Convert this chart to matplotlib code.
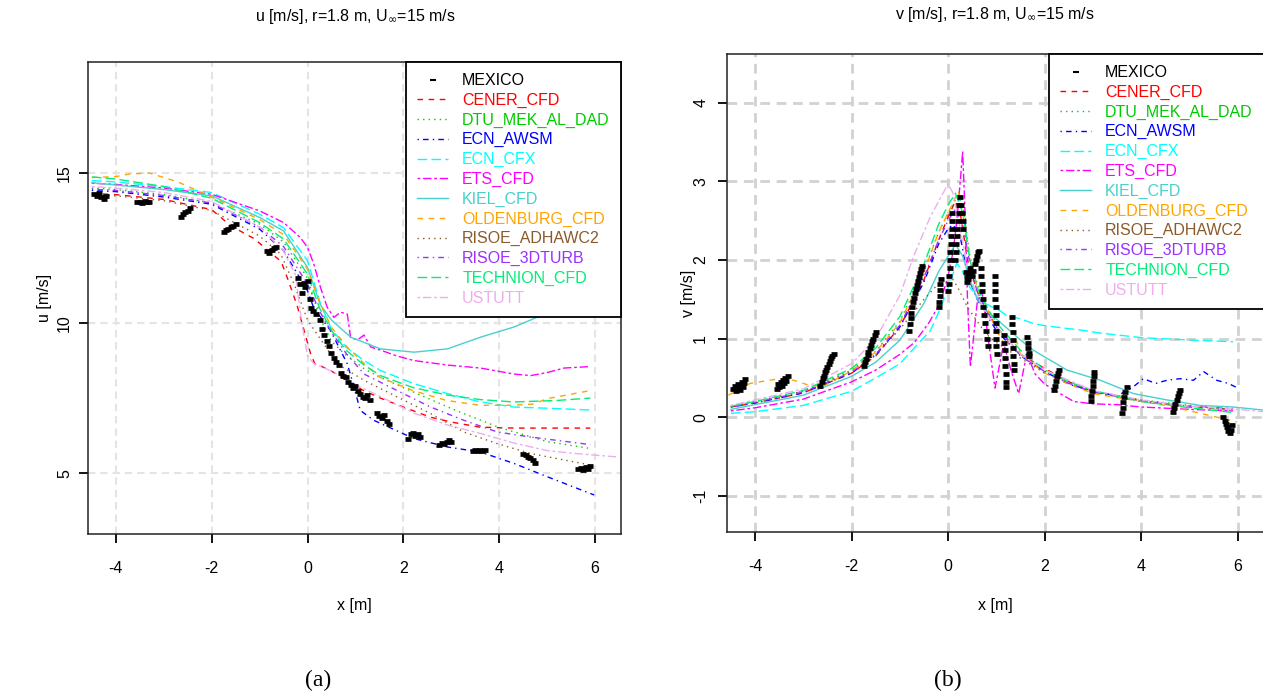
import matplotlib
matplotlib.use("Agg")
import matplotlib.pyplot as plt
from matplotlib.lines import Line2D

plt.rcParams["font.family"] = ["Liberation Sans", "DejaVu Sans"]
plt.rcParams["font.size"] = 11.5

# ---------------- legend / styles ----------------
models = ["CENER_CFD", "DTU_MEK_AL_DAD", "ECN_AWSM", "ECN_CFX", "ETS_CFD", "KIEL_CFD",
          "OLDENBURG_CFD", "RISOE_ADHAWC2", "RISOE_3DTURB", "TECHNION_CFD", "USTUTT"]
colors = ["#FF0000", "#00CD00", "#0000FF", "#00FFFF", "#FF00FF", "#48D1CC",
          "#FFA500", "#8B5A2B", "#9B30FF", "#00EE76", "#EEAEEE"]
styles = [(0, (4, 4)), (0, (1, 3)), (0, (1, 3, 4, 3)), (0, (7, 3)), (0, (2, 2, 6, 2)), "-",
          (0, (4, 4)), (0, (1, 3)), (0, (1, 3, 4, 3)), (0, (7, 3)), (0, (2, 2, 6, 2))]

# ---------------- (a) u [m/s] ----------------
u_mex_x = [-4.45, -4.4, -4.35, -4.3, -4.25, -4.2,
           -3.55, -3.5, -3.45, -3.4, -3.35, -3.3,
           -2.65, -2.6, -2.55, -2.5, -2.45,
           -1.75, -1.7, -1.65, -1.6, -1.55, -1.5,
           -0.85, -0.8, -0.75, -0.7, -0.65,
           -0.2, -0.15, -0.12, -0.08, -0.05, 0.0, 0.05, 0.08, 0.12, 0.18, 0.25, 0.3, 0.35,
           0.4, 0.45, 0.5, 0.55, 0.6, 0.65, 0.7, 0.75, 0.8, 0.85, 0.9, 0.95, 1.0, 1.05,
           1.1, 1.15, 1.2, 1.25, 1.3, 1.45, 1.5, 1.55, 1.6, 1.65, 1.7,
           2.1, 2.15, 2.2, 2.25, 2.3, 2.35,
           2.75, 2.8, 2.85, 2.9, 2.95, 3.0,
           3.45, 3.5, 3.55, 3.6, 3.65, 3.7,
           4.5, 4.55, 4.6, 4.65, 4.7, 4.75,
           5.65, 5.7, 5.75, 5.8, 5.85, 5.9]
u_mex = [14.3, 14.25, 14.32, 14.2, 14.15, 14.22,
         14.02, 14.05, 14.0, 14.08, 14.03, 14.05,
         13.55, 13.65, 13.7, 13.75, 13.85,
         13.05, 13.1, 13.15, 13.2, 13.25, 13.3,
         12.4, 12.35, 12.45, 12.5, 12.55,
         11.5, 11.3, 11.0, 11.35, 11.2, 11.4, 10.8, 10.5, 10.4, 10.3, 10.1, 9.8, 9.6,
         9.4, 9.25, 9.0, 8.85, 8.7, 8.6, 8.35, 8.25, 8.2, 8.05, 7.95, 7.85, 7.9, 7.75,
         7.65, 7.55, 7.5, 7.6, 7.45, 7.0, 6.9, 6.85, 6.95, 6.75, 6.65,
         6.15, 6.3, 6.35, 6.25, 6.3, 6.2,
         5.95, 6.0, 5.98, 6.05, 6.1, 6.05,
         5.75, 5.78, 5.75, 5.77, 5.75, 5.76,
         5.65, 5.6, 5.55, 5.5, 5.45, 5.35,
         5.12, 5.18, 5.1, 5.2, 5.15, 5.22]

u_cener_x = [-4.5, -4, -3, -2, -1.6, -1.1, -0.85, -0.55, -0.42, -0.22, 0.06, 0.15, 0.3, 0.5,
             0.8, 1.17, 1.52, 2, 2.57, 3, 3.6, 4.3, 5, 5.9]
u_cener = [14.32, 14.28, 14.12, 13.78, 13.24, 12.8, 12.45, 12.05, 11.5, 10.6, 9.0, 8.65, 8.55,
           8.4, 8.1, 7.75, 7.5, 7.2, 6.86, 6.7, 6.53, 6.5, 6.5, 6.5]
u_dtu_x = [-4.5, -4, -3, -2, -1, -0.5, 0, 0.25, 0.5, 0.75, 1, 1.18, 1.5, 2, 3, 4, 5, 5.9]
u_dtu = [14.5, 14.45, 14.28, 14.0, 13.3, 12.7, 11.5, 10.2, 9.4, 9.0, 8.7, 8.48, 8.2, 7.85,
         7.15, 6.52, 6.05, 5.82]
u_awsm_x = [-4.5, -4, -3, -2, -1, -0.5, 0, 0.13, 0.48, 0.83, 0.97, 1.1, 1.38, 2.22, 2.92,
            3.61, 4.31, 5.0, 5.98]
u_awsm = [14.42, 14.38, 14.2, 13.96, 13.13, 12.41, 11.08, 10.5, 9.75, 8.64, 7.87, 7.09, 6.76,
          6.15, 5.87, 5.7, 5.32, 4.88, 4.27]
u_cfx_x = [-4.5, -4, -3, -2, -1, -0.5, 0, 0.27, 0.5, 0.8, 1.18, 1.52, 2.22, 2.92, 3.61, 4.31,
           5.21, 5.91]
u_cfx = [14.75, 14.7, 14.55, 14.35, 13.63, 13.18, 12.08, 10.64, 9.8, 9.2, 8.75, 8.42, 7.98,
         7.65, 7.37, 7.2, 7.15, 7.1]
u_ets_x = [-4.5, -4, -3, -2, -1, -0.5, -0.15, 0, 0.13, 0.27, 0.41, 0.55, 0.69, 0.83, 0.9, 1.05,
           1.18, 1.32, 1.52, 1.87, 2.22, 2.92, 3.61, 4.31, 4.66, 5.0, 5.35, 5.9]
u_ets = [14.66, 14.62, 14.5, 14.29, 13.74, 13.35, 12.85, 12.52, 11.97, 11.19, 10.53, 10.19,
         10.36, 10.3, 9.5, 9.45, 9.6, 9.2, 9.1, 8.9, 8.75, 8.6, 8.5, 8.3, 8.25, 8.35, 8.5, 8.55]
u_kiel_x = [-4.5, -4, -3, -2, -1, -0.5, 0, 0.27, 0.5, 0.9, 1.52, 2.22, 2.92, 3.61, 4.31, 4.8,
            5.4, 5.9]
u_kiel = [14.68, 14.6, 14.45, 14.24, 13.52, 13.07, 11.85, 10.6, 10.1, 9.53, 9.14, 9.03, 9.14,
          9.53, 9.87, 10.2, 10.6, 10.95]
u_old_x = [-4.5, -4, -3.7, -3.3, -3.0, -2.7, -2, -1, -0.5, 0, 0.25, 0.5, 0.83, 1.18, 1.5, 2.2,
           2.9, 3.6, 4.3, 4.7, 5.0, 5.4, 5.9]
u_old = [14.85, 14.88, 14.97, 15.0, 14.85, 14.7, 14.2, 13.45, 12.95, 11.8, 10.7, 9.85, 9.2,
         8.65, 8.2, 7.75, 7.42, 7.26, 7.26, 7.3, 7.48, 7.6, 7.75]
u_adh_x = [-4.5, -4, -3, -2, -1, -0.56, -0.28, 0, 0.34, 0.62, 1.18, 1.87, 2.57, 3.26, 3.96,
           4.66, 5.9]
u_adh = [14.28, 14.24, 14.08, 13.75, 12.9, 12.3, 11.3, 10.1, 9.3, 8.64, 8.09, 7.54, 6.98, 6.37,
         5.98, 5.65, 5.27]
u_3dt_x = [-4.5, -4, -3, -2, -1, -0.5, 0, 0.25, 0.5, 0.8, 1.18, 1.87, 2.57, 3.26, 3.96, 4.66,
           5.9]
u_3dt = [14.46, 14.42, 14.25, 14.0, 13.2, 12.55, 11.3, 10.4, 9.7, 9.0, 8.3, 7.75, 7.2, 6.76,
         6.37, 6.2, 5.95]
u_tech_x = [-4.5, -4, -3, -2, -1, -0.5, 0, 0.25, 0.5, 0.8, 1.18, 1.52, 2.2, 2.92, 3.6, 4.31,
            5.2, 5.9]
u_tech = [14.87, 14.8, 14.55, 14.16, 13.35, 12.8, 11.63, 10.5, 9.75, 9.1, 8.6, 8.25, 7.85,
          7.6, 7.45, 7.37, 7.42, 7.5]
u_ust_x = [-4.5, -4, -3, -2, -1, -0.5, -0.25, -0.12, 0.0, 0.13, 0.5, 1.0, 1.52, 2.22, 2.92,
           3.61, 4.31, 5.0, 5.6, 6.46]
u_ust = [14.55, 14.5, 14.35, 14.05, 13.2, 12.4, 11.6, 10.0, 8.9, 8.65, 8.4, 7.95, 7.55, 7.0,
         6.6, 6.32, 6.0, 5.75, 5.65, 5.54]

# ---------------- (b) v [m/s] ----------------
v_mex_x = [-4.45, -4.42, -4.4, -4.37, -4.35, -4.32, -4.3, -4.27, -4.25, -4.22, -4.2,
           -3.55, -3.52, -3.5, -3.47, -3.45, -3.42, -3.4, -3.37, -3.35, -3.32,
           -2.65, -2.62, -2.6, -2.57, -2.55, -2.52, -2.5, -2.47, -2.45, -2.42, -2.4, -2.37,
           -1.75, -1.72, -1.7, -1.67, -1.65, -1.62, -1.6, -1.57, -1.55, -1.52, -1.5,
           -0.82, -0.8, -0.78, -0.76, -0.74, -0.72, -0.7, -0.68, -0.66, -0.64, -0.62, -0.6,
           -0.58, -0.56, -0.54,
           -0.19, -0.18, -0.17, -0.16, -0.16, -0.15,
           0.0, 0.01, 0.02, 0.03, 0.03, 0.04, 0.05, 0.06, 0.07, 0.07, 0.08,
           0.15, 0.16, 0.17, 0.18, 0.19, 0.2, 0.22, 0.23, 0.25, 0.27, 0.28, 0.3, 0.3,
           0.36, 0.38, 0.4, 0.42, 0.44, 0.46, 0.48, 0.5, 0.52, 0.55, 0.58, 0.6, 0.62, 0.64,
           0.68, 0.69, 0.7, 0.71, 0.72, 0.73, 0.75, 0.76, 0.78, 0.8, 0.82,
           0.96, 0.96, 0.97, 0.97, 0.98, 0.98, 0.99, 0.99, 1.0, 1.0, 1.01,
           1.16, 1.16, 1.17, 1.17, 1.18, 1.19, 1.19, 1.2,
           1.33, 1.33, 1.34, 1.34, 1.35, 1.35, 1.36, 1.36,
           1.64, 1.65, 1.66, 1.67, 1.68,
           2.2, 2.22, 2.24, 2.26, 2.28, 2.3,
           2.95, 2.96, 2.98, 2.99, 3.0, 3.02, 3.03,
           3.6, 3.62, 3.63, 3.65, 3.67, 3.7,
           4.65, 4.68, 4.7, 4.73, 4.75, 4.78, 4.8,
           5.7, 5.73, 5.75, 5.78, 5.8, 5.83, 5.86, 5.88]
v_mex = [0.36, 0.4, 0.33, 0.38, 0.42, 0.35, 0.4, 0.45, 0.38, 0.43, 0.48,
         0.36, 0.42, 0.38, 0.45, 0.4, 0.47, 0.43, 0.5, 0.46, 0.52,
         0.4, 0.45, 0.5, 0.53, 0.57, 0.6, 0.64, 0.68, 0.72, 0.75, 0.78, 0.8,
         0.65, 0.7, 0.74, 0.79, 0.83, 0.88, 0.92, 0.97, 1.0, 1.04, 1.08,
         1.1, 1.18, 1.26, 1.33, 1.4, 1.46, 1.52, 1.58, 1.63, 1.68, 1.73, 1.78,
         1.83, 1.88, 1.92,
         1.4, 1.47, 1.54, 1.62, 1.7, 1.76,
         1.6, 1.7, 1.8, 1.9, 2.0, 2.1, 2.2, 2.3, 2.4, 2.5, 2.6,
         2.0, 2.1, 2.2, 2.3, 2.4, 2.5, 2.6, 2.7, 2.8, 2.7, 2.6, 2.5, 2.4,
         1.85, 1.78, 1.72, 1.76, 1.82, 1.9, 1.85, 1.8, 1.86, 1.95, 2.0, 2.05, 2.1, 2.12,
         1.9, 1.8, 1.7, 1.6, 1.5, 1.4, 1.3, 1.2, 1.1, 1.0, 0.9,
         1.8, 1.7, 1.6, 1.5, 1.4, 1.3, 1.2, 1.1, 1.0, 0.9, 0.8,
         1.05, 0.95, 0.85, 0.75, 0.65, 0.55, 0.45, 0.38,
         1.28, 1.18, 1.08, 0.98, 0.88, 0.78, 0.68, 0.6,
         1.02, 0.95, 0.88, 0.82, 0.78,
         0.34, 0.4, 0.46, 0.52, 0.56, 0.6,
         0.2, 0.27, 0.33, 0.4, 0.46, 0.52, 0.57,
         0.05, 0.12, 0.19, 0.26, 0.32, 0.38,
         0.06, 0.12, 0.17, 0.22, 0.27, 0.31, 0.35,
         0.0, -0.05, -0.09, -0.13, -0.17, -0.2, -0.16, -0.1]

v_cener_x = [-4.5, -4, -3, -2, -1.5, -1, -0.5, -0.2, 0, 0.15, 0.25, 0.4, 0.6, 0.8, 1.0, 1.5,
             2, 2.5, 3, 4, 5, 5.9]
v_cener = [0.13, 0.18, 0.31, 0.56, 0.78, 1.15, 1.75, 2.25, 2.55, 2.75, 2.6, 2.0, 1.6, 1.35,
           1.15, 0.8, 0.62, 0.45, 0.33, 0.21, 0.13, 0.1]
v_dtu_x = [-4.5, -4, -3, -2, -1.5, -1, -0.5, -0.2, 0, 0.2, 0.3, 0.45, 0.6, 0.8, 1.0, 1.5, 2,
           2.5, 3, 4, 5, 5.9]
v_dtu = [0.14, 0.2, 0.33, 0.6, 0.84, 1.22, 1.87, 2.35, 2.6, 2.82, 2.7, 2.05, 1.7, 1.4, 1.15,
         0.8, 0.6, 0.44, 0.33, 0.22, 0.15, 0.08]
v_awsm_x = [-4.5, -4, -3, -2, -1.5, -1, -0.5, -0.2, 0, 0.1, 0.25, 0.4, 0.6, 0.8, 1.0, 1.5, 2,
            2.5, 3, 3.5, 3.84, 4.04, 4.3, 4.53, 4.8, 5.08, 5.29, 5.56, 5.8, 6.0]
v_awsm = [0.13, 0.18, 0.31, 0.56, 0.79, 1.15, 1.72, 2.2, 2.4, 2.45, 2.3, 1.8, 1.5, 1.3, 1.1,
          0.78, 0.58, 0.42, 0.33, 0.27, 0.39, 0.49, 0.43, 0.47, 0.49, 0.47, 0.58, 0.47, 0.43,
          0.37]
v_cfx_x = [-4.5, -4, -3, -2, -1.5, -1, -0.6, -0.37, -0.15, 0, 0.18, 0.3, 0.45, 0.66, 0.85,
           1.0, 1.08, 1.2, 1.5, 1.77, 2.04, 2.73, 3.15, 4.04, 5.08, 5.9]
v_cfx = [0.05, 0.07, 0.15, 0.33, 0.5, 0.68, 0.95, 1.1, 1.4, 1.65, 1.96, 1.85, 1.65, 1.49, 1.42,
         1.38, 1.35, 1.3, 1.25, 1.19, 1.16, 1.11, 1.07, 1.01, 0.98, 0.96]
v_ets_x = [-4.5, -4, -3, -2, -1.5, -1, -0.7, -0.4, -0.17, 0, 0.1, 0.18, 0.25, 0.3, 0.35, 0.4,
           0.46, 0.6, 0.7, 0.85, 0.97, 1.15, 1.3, 1.46, 1.63, 1.8, 2.0, 2.32, 2.6, 3.0, 3.5,
           4.0, 5.0, 5.9]
v_ets = [0.08, 0.12, 0.23, 0.45, 0.6, 0.8, 0.95, 1.2, 1.45, 1.8, 2.1, 2.5, 3.0, 3.38, 2.6, 1.5,
         0.64, 1.45, 1.6, 0.9, 0.37, 0.94, 0.6, 0.3, 0.81, 0.55, 0.42, 0.3, 0.2, 0.17, 0.16,
         0.13, 0.1, 0.08]
v_kiel_x = [-4.5, -4, -3, -2, -1.5, -1, -0.5, -0.2, 0, 0.15, 0.3, 0.45, 0.6, 0.8, 1.0, 1.5,
            1.77, 2.46, 3.15, 3.84, 4.53, 5.22, 5.9, 6.54]
v_kiel = [0.1, 0.16, 0.28, 0.52, 0.7, 0.98, 1.45, 1.85, 2.05, 2.2, 2.05, 1.75, 1.5, 1.35, 1.25,
          0.98, 0.85, 0.6, 0.47, 0.3, 0.22, 0.15, 0.13, 0.09]
v_old_x = [-4.55, -4.1, -3.5, -3.2, -2.9, -2.6, -2, -1.5, -1, -0.5, -0.2, 0, 0.21, 0.3, 0.45,
           0.6, 0.8, 1.0, 1.2, 1.35, 1.5, 2, 2.5, 3, 4, 4.5, 5.22, 5.98]
v_old = [0.28, 0.43, 0.49, 0.47, 0.41, 0.39, 0.59, 0.83, 1.2, 1.85, 2.35, 2.6, 2.87, 2.6, 2.0,
         1.65, 1.4, 1.1, 0.9, 1.1, 0.8, 0.56, 0.42, 0.3, 0.2, 0.15, 0.05, -0.06]
v_adh_x = [-4.5, -4, -3, -2, -1.5, -1, -0.5, -0.2, 0, 0.1, 0.2, 0.4, 0.6, 0.8, 1.0, 1.5, 2, 3,
           4, 5, 5.9]
v_adh = [0.14, 0.2, 0.33, 0.58, 0.8, 1.12, 1.5, 1.7, 1.78, 1.75, 1.65, 1.4, 1.22, 1.05, 0.95,
         0.75, 0.56, 0.32, 0.2, 0.14, 0.1]
v_3dt_x = [-4.5, -4, -3, -2, -1.5, -1, -0.5, -0.2, 0, 0.15, 0.3, 0.45, 0.6, 0.8, 1.0, 1.5, 2,
           2.5, 3, 4, 5, 5.9]
v_3dt = [0.13, 0.19, 0.32, 0.57, 0.8, 1.17, 1.78, 2.25, 2.5, 2.65, 2.45, 1.95, 1.6, 1.35, 1.15,
         0.78, 0.58, 0.43, 0.32, 0.21, 0.14, 0.11]
v_tech_x = [-4.5, -4, -3, -2, -1.5, -1, -0.5, -0.2, 0, 0.15, 0.3, 0.45, 0.6, 0.8, 1.0, 1.5, 2,
            2.5, 3, 4, 5, 5.9]
v_tech = [0.14, 0.2, 0.34, 0.62, 0.88, 1.28, 1.95, 2.45, 2.7, 2.85, 2.6, 2.0, 1.65, 1.4, 1.2,
          0.85, 0.6, 0.45, 0.34, 0.2, 0.12, 0.06]
v_ust_x = [-4.5, -4, -3, -2, -1.5, -1, -0.72, -0.37, 0, 0.1, 0.25, 0.4, 0.6, 0.8, 1.0, 1.5, 2,
           3, 4, 5, 6, 6.54]
v_ust = [0.15, 0.22, 0.36, 0.68, 1.0, 1.55, 2.04, 2.55, 2.97, 2.85, 2.4, 1.9, 1.55, 1.3, 1.15,
         0.8, 0.6, 0.34, 0.22, 0.14, 0.1, 0.07]

u_series = [(u_cener_x, u_cener), (u_dtu_x, u_dtu), (u_awsm_x, u_awsm), (u_cfx_x, u_cfx),
            (u_ets_x, u_ets), (u_kiel_x, u_kiel), (u_old_x, u_old), (u_adh_x, u_adh),
            (u_3dt_x, u_3dt), (u_tech_x, u_tech), (u_ust_x, u_ust)]
v_series = [(v_cener_x, v_cener), (v_dtu_x, v_dtu), (v_awsm_x, v_awsm), (v_cfx_x, v_cfx),
            (v_ets_x, v_ets), (v_kiel_x, v_kiel), (v_old_x, v_old), (v_adh_x, v_adh),
            (v_3dt_x, v_3dt), (v_tech_x, v_tech), (v_ust_x, v_ust)]


def draw_panel(ax, mex_x, mex_y, series, yticks, ylim, grid_color, grid_lw, ypad):
    """
    One R-style panel: grid, model lines, measured points, legend.
    """
    ax.set_xlim(-4.58, 6.54)
    ax.set_ylim(*ylim)
    xt = [-4, -2, 0, 2, 4, 6]
    for x in xt:
        ax.axvline(x, color=grid_color, lw=grid_lw, ls=(0, (3.5, 2.4)), zorder=0)
    for y in yticks:
        ax.axhline(y, color=grid_color, lw=grid_lw, ls=(0, (3.5, 2.4)), zorder=0)

    for (xs, ys), c, ls in zip(series, colors, styles):
        ax.plot(xs, ys, color=c, ls=ls, lw=1.0, zorder=2)
    ax.plot(mex_x, mex_y, ls="none", marker="_", ms=5, mew=3.4, color="black", zorder=3)

    ax.set_xticks(xt)
    ax.set_xticklabels([str(x) for x in xt])
    ax.set_yticks(yticks)
    ax.set_yticklabels([str(y) for y in yticks], rotation=90, va="center")
    ax.tick_params(direction="out", length=6.5, width=1.3)
    ax.tick_params(axis="x", pad=13)
    ax.tick_params(axis="y", pad=ypad)
    for s in ax.spines.values():
        s.set_linewidth(1.1)
        s.set_color("#222222")

    handles = [Line2D([], [], ls="none", marker="_", ms=4, mew=1.5, color="black")]
    for c, ls in zip(colors, styles):
        handles.append(Line2D([], [], color=c, ls=ls, lw=1.0))
    leg = ax.legend(handles, ["MEXICO"] + models, loc="upper right", bbox_to_anchor=(1, 1),
                    borderaxespad=0, fontsize=11.5, labelspacing=0.29, handlelength=1.9,
                    handletextpad=0.9, borderpad=0.7, fancybox=False, framealpha=1,
                    edgecolor="black", labelcolor="linecolor")
    leg.get_frame().set_linewidth(1.3)
    leg.set_zorder(5)


fig = plt.figure(figsize=(12.63, 6.96), dpi=100)
ax1 = fig.add_axes([88 / 1263, 1 - 534 / 696, 533 / 1263, 472 / 696])
ax2 = fig.add_axes([727 / 1263, 1 - 532 / 696, 537 / 1263, 478 / 696])

draw_panel(ax1, u_mex_x, u_mex, u_series, [5, 10, 15], (2.97, 18.7), "#E4E4E4", 1.5, 5)
draw_panel(ax2, v_mex_x, v_mex, v_series, [-1, 0, 1, 2, 3, 4], (-1.46, 4.62), "#D2D2D2", 2.0, 7)

ax1.set_xlabel("x [m]")
ax1.xaxis.set_label_coords(0.5, -0.135)
ax1.set_ylabel("u [m/s]")
ax1.yaxis.set_label_coords(-0.068, 0.5)
ax2.set_xlabel("x [m]")
ax2.xaxis.set_label_coords(0.5, -0.138)
ax2.set_ylabel("v [m/s]")
ax2.yaxis.set_label_coords(-0.058, 0.5)

fig.text(355 / 1263, 1 - 17 / 696, "u [m/s], r=1.8 m, U$_\\infty$=15 m/s", ha="center", va="center")
fig.text(995 / 1263, 1 - 14 / 696, "v [m/s], r=1.8 m, U$_\\infty$=15 m/s", ha="center", va="center")

fig.text(318 / 1263, 1 - 680 / 696, "(a)", family="Liberation Serif", fontsize=17, ha="center", va="center")
fig.text(948 / 1263, 1 - 680 / 696, "(b)", family="Liberation Serif", fontsize=17, ha="center", va="center")

fig.savefig("out.png", dpi=100)
